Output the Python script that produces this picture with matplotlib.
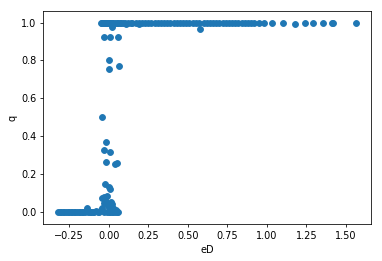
import matplotlib
matplotlib.use("Agg")
import matplotlib.pyplot as plt

# points sitting on (or near) q = 1
eD_high = [-0.05, -0.045, -0.04, -0.035, -0.03, -0.025, -0.02, -0.015, -0.01,
           -0.005, 0.0, 0.005, 0.01, 0.015, 0.02, 0.03, 0.04, 0.05, 0.06, 0.07,
           0.08, 0.09, 0.10, 0.12, 0.14, 0.15, 0.17, 0.19, 0.21, 0.23, 0.25,
           0.27, 0.29, 0.31, 0.33, 0.35, 0.37, 0.39, 0.41, 0.43, 0.45, 0.47,
           0.49, 0.51, 0.53, 0.55, 0.57, 0.60, 0.62, 0.64, 0.66, 0.68, 0.70,
           0.72, 0.74, 0.76, 0.78, 0.80, 0.82, 0.84, 0.86, 0.88, 0.90, 0.92,
           0.95, 0.98, 1.035, 1.099, 1.238, 1.293, 1.352, 1.41, 1.42, 1.563,
           0.02, 0.575, 1.179, 0.11, 0.19, 0.03]
q_high = [1.0] * 74 + [0.976, 0.966, 0.995, 0.99, 0.99, 0.99]

# transition region
eD_mid = [-0.032, 0.011, 0.06, 0.004, 0.003, 0.068, -0.04, -0.015, -0.027,
          0.006, -0.019, 0.042, 0.055, -0.021, 0.0, 0.006, -0.032, -0.01,
          -0.042, -0.021, 0.02, -0.03, -0.005, 0.012, 0.03, 0.045]
q_mid = [0.925, 0.925, 0.925, 0.80, 0.753, 0.77, 0.498, 0.368, 0.328,
         0.317, 0.261, 0.25, 0.258, 0.144, 0.131, 0.121, 0.079, 0.082,
         0.074, 0.06, 0.038, 0.045, 0.03, 0.05, 0.02, 0.01]

# points sitting on (or near) q = 0
eD_low = [-0.32, -0.31, -0.30, -0.29, -0.28, -0.27, -0.26, -0.25, -0.24,
          -0.23, -0.22, -0.21, -0.20, -0.19, -0.18, -0.17, -0.16, -0.15,
          -0.14, -0.137, -0.13, -0.12, -0.11, -0.10, -0.09, -0.08, -0.07,
          -0.06, -0.05, -0.04, -0.03, -0.02, -0.01, 0.0, 0.01, 0.02, 0.03,
          0.04, 0.05, 0.06]
q_low = [0.0, 0.0, 0.0, 0.0, 0.0, 0.0, 0.0, 0.0, 0.0,
         0.0, 0.0, 0.0, 0.0, 0.0, 0.0, 0.0, 0.0, 0.0,
         0.005, 0.017, 0.0, 0.0, 0.0, 0.0, 0.0, 0.003, 0.0,
         0.0, 0.01, 0.02, 0.0, 0.05, 0.0, 0.0, 0.0, 0.0, 0.0,
         0.0, 0.0, 0.0]

eD = eD_high + eD_mid + eD_low
q = q_high + q_mid + q_low

fig = plt.figure(figsize=(382 / 70, 261 / 70), dpi=70)
ax = fig.add_subplot(111)
fig.subplots_adjust(left=0.113, right=0.971, top=0.959, bottom=0.141)
ax.scatter(eD, q)
ax.set_ylim(-0.067, 1.063)
ax.set_xlabel("eD")
ax.set_ylabel("q")
fig.savefig("out.png", dpi=70)
